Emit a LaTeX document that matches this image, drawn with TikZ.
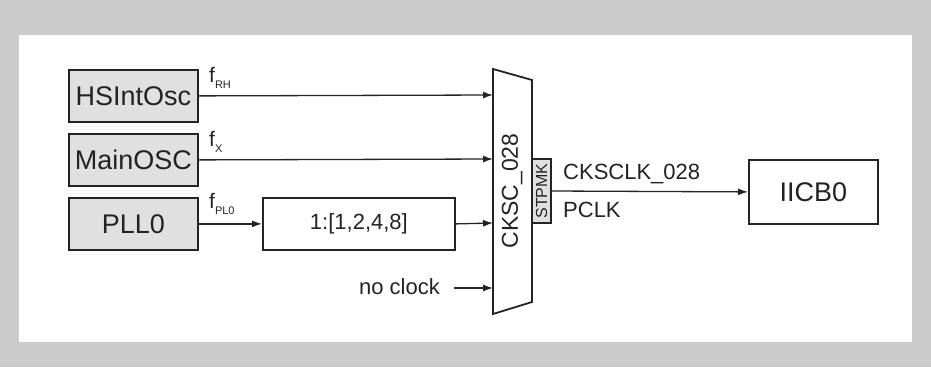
\documentclass[tikz,border=0pt]{standalone}
\usepackage{fontspec}
\setmainfont{Liberation Sans}
\usetikzlibrary{arrows.meta}
\definecolor{bggray}{RGB}{204,204,204}
\definecolor{boxgray}{RGB}{224,224,224}
\definecolor{ink}{RGB}{35,35,35}
\newcommand\fsubl[1]{f\raisebox{-6.5pt}{\fontsize{11}{11}\selectfont #1}}
\begin{document}
\begin{tikzpicture}[x=1pt,y=-1pt,
  srcbox/.style={draw=ink, line width=1.8pt, fill=boxgray, minimum width=129pt, minimum height=52pt,
    inner sep=0pt, font=\fontsize{27}{27}\selectfont, text=ink, anchor=north west},
  plainbox/.style={draw=ink, line width=1.8pt, fill=white, inner sep=0pt, text=ink, anchor=north west},
  conn/.style={draw=ink, line width=1.3pt, -{Latex[length=10pt,width=7pt]}},
  flab/.style={font=\fontsize{21}{21}\selectfont, text=ink, anchor=base west, inner sep=0pt},
  lab/.style={font=\fontsize{22}{22}\selectfont, text=ink, inner sep=0pt}]
\useasboundingbox (0,0) rectangle (931,367);
\fill[bggray] (0,0) rectangle (931,367);
\fill[white] (19,35) rectangle (912,342);
% sources
\node[srcbox] (hs) at (68,69) {HSIntOsc};
\node[srcbox] (ms) at (68,133) {MainOSC};
\node[srcbox] (pll) at (68,197) {PLL0};
% divider
\node[plainbox, minimum width=192pt, minimum height=52pt, font=\fontsize{22}{22}\selectfont] (div) at (262,197) {1:[1,2,4,8]};
% mux
\draw[ink, line width=1.8pt, fill=white] (493,69) -- (532,80) -- (532,302) -- (493,314) -- cycle;
\coordinate (m1) at (493,95);
\coordinate (m2) at (493,159);
\coordinate (m3) at (493,223);
\coordinate (m4) at (493,288);
\coordinate (nc) at (454,288);
\node[lab, rotate=90, font=\fontsize{23}{23}\selectfont] (muxlab) at (512,191) {CKSC\_028};
% STPMK
\node[draw=ink, line width=1.3pt, fill=boxgray, minimum width=64pt, minimum height=19pt, inner sep=0pt,
  rotate=90, font=\fontsize{16}{16}\selectfont, text=ink] (stp) at (541.5,191) {STPMK};
% IICB0
\node[plainbox, minimum width=129pt, minimum height=64pt, font=\fontsize{27}{27}\selectfont] (iicb) at (748,159) {IICB0};
% connectors
\draw[conn] (hs.east) -- (m1);
\draw[conn] (ms.east) -- (m2);
\draw[conn] (pll.east) -- (div.west);
\draw[conn] (div.east) -- (m3);
\draw[conn] (nc) -- (m4);
\draw[conn] (stp.south) -- (iicb.west);
% labels
\node[flab] (frh) at (209,82) {\fsubl{RH}};
\node[flab] (fx) at (209,146) {\fsubl{X}};
\node[flab] (fpl) at (209,208) {\fsubl{PL0}};
\node[lab, anchor=east] (nclab) at (440,287) {no clock};
\node[lab, anchor=base west] (ckl) at (563,179) {CKSCLK\_028};
\node[lab, anchor=base west] (pcl) at (563,217) {PCLK};
\end{tikzpicture}
\end{document}
